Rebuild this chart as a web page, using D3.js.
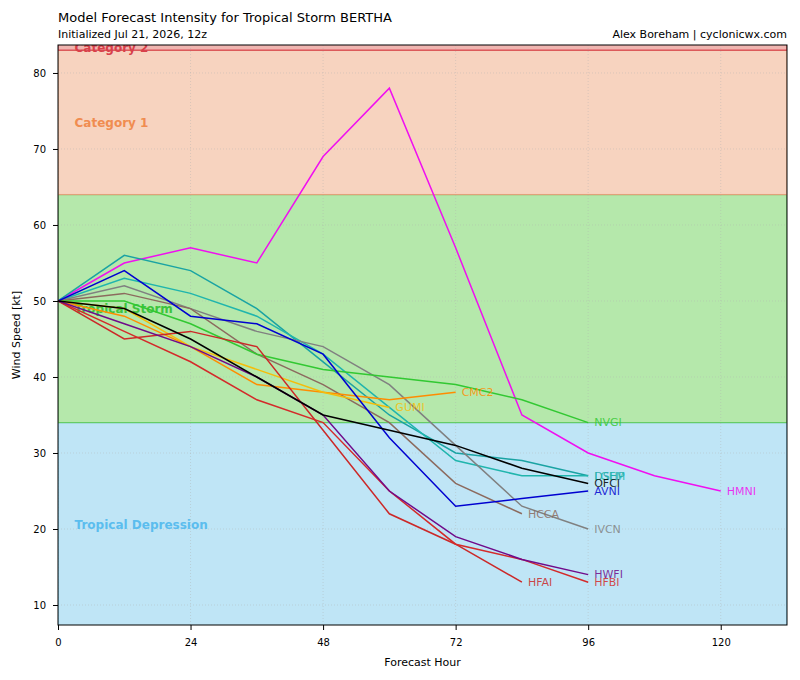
<!DOCTYPE html>
<html>
<head>
<meta charset="utf-8">
<script src="https://cdn.jsdelivr.net/npm/d3@7"></script>
<style>
  body { margin: 0; background: #fff; }
  text { font-family: "DejaVu Sans", sans-serif; }
</style>
</head>
<body>
<div class="chart"></div>
<script>
// DATA ------------------------------------
const hours = [0, 12, 24, 36, 48, 60, 72, 84, 96, 108, 120]

const HMNI = [50, 55, 57, 55, 69, 78, 57, 35, 30, 27, 25]
const DSHP = [50, 56, 54, 49, 42, 35, 30, 29, 27]
const LGEM = [50, 53, 51, 48, 43, 36, 29, 27, 27]
const AVNI = [50, 54, 48, 47, 43, 32, 23, 24, 25]
const IVCN = [50, 52, 49, 46, 44, 39, 31, 23, 20]
const HCCA = [50, 51, 49, 43, 39, 34, 26, 22]
const NVGI = [50, 50, 47, 43, 41, 40, 39, 37, 34]
const CMC2 = [50, 48, 44, 39, 38, 37, 38]
const GUMI = [50, 49, 44, 41, 38, 36]
const HWFI = [50, 47, 44, 40, 35, 25, 19, 16, 14]
const HFBI = [50, 46, 42, 37, 34, 25, 18, 16, 13]
const HFAI = [50, 45, 46, 44, 33, 22, 18, 13]
const OFCI = [50, 49, 45, 40, 35, 33, 31, 28, 26]

const bandNames = ["Tropical Depression", "Tropical Storm", "Category 1", "Category 2"]
const bandLow = [0, 34, 64, 83]
const bandHigh = [34, 64, 83, 96]

const xTicks = [0, 24, 48, 72, 96, 120]
const yTicks = [10, 20, 30, 40, 50, 60, 70, 80]

// styles
const bandFill = ["#bfe5f6", "#b5e8ab", "#f7d3bf", "#f0b5b0"]
const bandEdge = ["#7ccbee", "#66cc66", "#e0a27a", "#d9404a"]
const bandText = ["#5bbdee", "#3dc43d", "#f08c50", "#d8404a"]

const series = [
  {name: "HMNI", values: HMNI, color: "#f00ff0"},
  {name: "DSHP", values: DSHP, color: "#1aa3a3"},
  {name: "LGEM", values: LGEM, color: "#20b5ad"},
  {name: "IVCN", values: IVCN, color: "#808080"},
  {name: "HCCA", values: HCCA, color: "#8c6a5e"},
  {name: "NVGI", values: NVGI, color: "#32c832"},
  {name: "CMC2", values: CMC2, color: "#ff8c00"},
  {name: "GUMI", values: GUMI, color: "#f5bd0a"},
  {name: "AVNI", values: AVNI, color: "#0000d0"},
  {name: "HFAI", values: HFAI, color: "#cc2828"},
  {name: "HFBI", values: HFBI, color: "#d42a2a"},
  {name: "HWFI", values: HWFI, color: "#700a8a"},
  {name: "OFCI", values: OFCI, color: "#000000"}
]

// MARGIN CONVENTION
const margin = ({top: 45, right: 13, bottom: 55, left: 58})
const width = 800 - margin.left - margin.right
const height = 680 - margin.top - margin.bottom

const root = d3.select(".chart")
  .append("svg")
  .attr("width", 800)
  .attr("height", 680)

const svg = root.append("g")
  .attr("transform", "translate(" + margin.left + "," + margin.top + ")")

const xScale = d3.scaleLinear().domain([0, 132]).range([0, width])
const yScale = d3.scaleLinear().domain([7.37, 83.68]).range([height, 0])

svg.append("clipPath").attr("id", "clip")
  .append("rect").attr("width", width).attr("height", height)

const plot = svg.append("g").attr("clip-path", "url(#clip)")

// intensity bands
plot.selectAll(".band")
  .data(bandNames)
  .join("rect")
  .attr("class", "band")
  .attr("x", 0)
  .attr("width", width)
  .attr("y", (d, i) => yScale(bandHigh[i]))
  .attr("height", (d, i) => yScale(bandLow[i]) - yScale(bandHigh[i]))
  .attr("fill", (d, i) => bandFill[i])
  .attr("stroke", (d, i) => bandEdge[i])
  .attr("stroke-width", 1.2)

// grid
plot.selectAll(".gx")
  .data(xTicks)
  .join("line")
  .attr("x1", d => xScale(d)).attr("x2", d => xScale(d))
  .attr("y1", 0).attr("y2", height)
  .attr("stroke", "#b0b0b0").attr("stroke-opacity", 0.5)
  .attr("stroke-dasharray", "1,2").attr("stroke-width", 0.8)
plot.selectAll(".gy")
  .data(yTicks)
  .join("line")
  .attr("y1", d => yScale(d)).attr("y2", d => yScale(d))
  .attr("x1", 0).attr("x2", width)
  .attr("stroke", "#b0b0b0").attr("stroke-opacity", 0.5)
  .attr("stroke-dasharray", "1,2").attr("stroke-width", 0.8)

// band labels
plot.selectAll(".band-label")
  .data(bandNames)
  .join("text")
  .attr("x", xScale(3))
  .attr("y", (d, i) => i == 3 ? 3 : yScale((Math.max(bandLow[i], 7) + bandHigh[i]) / 2))
  .attr("dy", "0.35em")
  .attr("fill", (d, i) => bandText[i])
  .attr("font-weight", "bold")
  .attr("font-size", "12px")
  .text(d => d)

// model lines
const line = d3.line()
  .x((d, i) => xScale(hours[i]))
  .y(d => yScale(d))

plot.selectAll(".model")
  .data(series)
  .join("path")
  .attr("class", "model")
  .attr("d", d => line(d.values))
  .attr("fill", "none")
  .attr("stroke", d => d.color)
  .attr("stroke-width", 1.5)

plot.selectAll(".model-label")
  .data(series)
  .join("text")
  .attr("x", d => xScale(hours[d.values.length - 1]) + 6)
  .attr("y", d => yScale(d.values[d.values.length - 1]))
  .attr("dy", "0.35em")
  .attr("fill", d => d.color)
  .attr("fill-opacity", 0.85)
  .attr("font-size", "11px")
  .text(d => d.name)

// frame
svg.append("rect")
  .attr("width", width).attr("height", height)
  .attr("fill", "none").attr("stroke", "#000").attr("stroke-width", 1)

// axes
const xAxis = svg.append("g")
  .attr("transform", `translate(0, ${height})`)
  .call(d3.axisBottom(xScale).tickValues(xTicks).tickSize(5).tickPadding(9))
const yAxis = svg.append("g")
  .call(d3.axisLeft(yScale).tickValues(yTicks).tickSize(5).tickPadding(7))

svg.selectAll(".domain").remove()
svg.selectAll(".tick text").attr("font-size", "10px").attr("fill", "#000")
  .attr("font-family", "DejaVu Sans, sans-serif")
svg.selectAll(".tick line").attr("stroke", "#000")

svg.append("text")
  .attr("x", width / 2).attr("y", height + 41)
  .attr("text-anchor", "middle").attr("font-size", "11px")
  .text("Forecast Hour")
svg.append("text")
  .attr("transform", `translate(-38, ${height / 2}) rotate(-90)`)
  .attr("text-anchor", "middle").attr("font-size", "11px")
  .text("Wind Speed [kt]")

// titles
root.append("text")
  .attr("x", margin.left).attr("y", 22)
  .attr("font-size", "13px")
  .text("Model Forecast Intensity for Tropical Storm BERTHA")
root.append("text")
  .attr("x", margin.left).attr("y", 38)
  .attr("font-size", "11px")
  .text("Initialized Jul 21, 2026, 12z")
root.append("text")
  .attr("x", margin.left + width).attr("y", 38)
  .attr("text-anchor", "end")
  .attr("font-size", "11px")
  .text("Alex Boreham | cyclonicwx.com")
</script>
</body>
</html>
